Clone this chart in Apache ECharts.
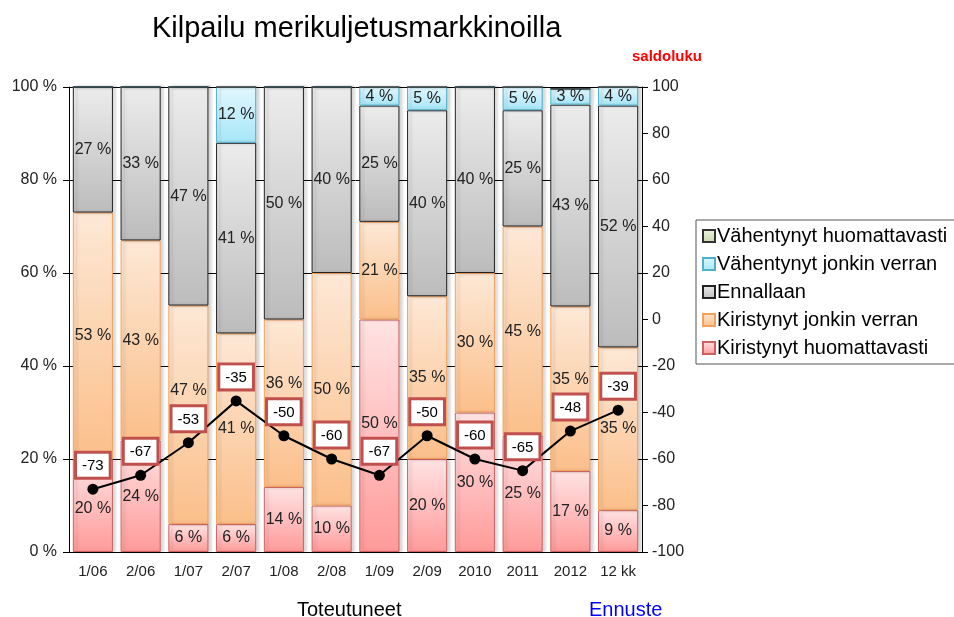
<!DOCTYPE html>
<html style="height: 100%">
<head>
    <meta charset="utf-8">
    <script type="text/javascript" src="https://cdn.jsdelivr.net/npm/echarts@6/dist/echarts.min.js"></script>
</head>
<body style="height: 100%; margin: 0; background: #fff">
<div id="container" style="height: 617px; width: 954px"></div>
<script type="text/javascript">
    var categories = ['1/06', '2/06', '1/07', '2/07', '1/08', '2/08', '1/09', '2/09', '2010', '2011', '2012', '12 kk'];
    var kirHuom = [20, 24, 6, 6, 14, 10, 50, 20, 30, 25, 17.4, 9];
    var kirJonkin = [53, 43, 47, 41, 36, 50, 21, 35, 30, 45, 35.4, 35];
    var ennallaan = [27, 33, 47, 41, 50, 40, 25, 40, 40, 25, 43.4, 52];
    var vahJonkin = [0, 0, 0, 12, 0, 0, 4, 5, 0, 5, 3.4, 4];
    var vahHuom = [0, 0, 0, 0, 0, 0, 0, 0, 0, 0, 0, 0];
    var saldo = [-73, -67, -53, -35, -50, -60, -67, -50, -60, -65, -48, -39];

    var font = '"Liberation Sans", Arial, sans-serif';
    var myChart;

    function grad(top, bottom) {
        return new echarts.graphic.LinearGradient(0, 0, 0, 1, [
            {offset: 0, color: top},
            {offset: 1, color: bottom}
        ]);
    }

    // keep bar labels clear of the saldoluku point and its label box
    function avoidLine(p) {
        var pt;
        try {
            pt = myChart.convertToPixel({xAxisIndex: 0, yAxisIndex: 1}, [p.dataIndex, saldo[p.dataIndex]]);
        } catch (e) {
            return {};
        }
        if (!pt) return {};
        var py = pt[1];
        var zTop = py - 42, zBot = py + 9;
        var l = p.labelRect, r = p.rect;
        var top = l.y, bot = l.y + l.height;
        if (bot < zTop || top > zBot) return {};
        var up = (zTop - 2) - bot;          // negative: move up
        var down = (zBot + 2) - top;        // positive: move down
        var upOk = top + up >= r.y;
        var downOk = bot + down <= r.y + r.height;
        if (upOk && (!downOk || -up <= down)) return {dy: up};
        if (downOk) return {dy: down};
        return {dy: up};
    }

    function barSeries(name, data, top, bottom, border) {
        return {
            name: name,
            type: 'bar',
            stack: 'total',
            barCategoryGap: '16%',
            data: data,
            itemStyle: {
                color: grad(top, bottom),
                borderColor: border,
                borderWidth: 1,
                shadowColor: 'rgba(0,0,0,0.18)',
                shadowOffsetX: 3,
                shadowBlur: 3
            },
            label: {
                show: true,
                position: 'inside',
                fontFamily: font,
                fontSize: 16,
                color: '#222',
                formatter: function (p) {
                    return p.value ? Math.round(p.value) + ' %' : '';
                }
            },
            labelLayout: avoidLine
        };
    }

    var dom = document.getElementById('container');
    myChart = echarts.init(dom);
    var option = {
        animation: false,
        textStyle: {fontFamily: font},
        title: [
            {
                text: 'Kilpailu merikuljetusmarkkinoilla',
                left: 147, top: 9,
                textStyle: {fontSize: 29, fontWeight: 'normal', color: '#000', fontFamily: font}
            },
            {
                text: 'saldoluku',
                left: 627, top: 44,
                textStyle: {fontSize: 15, fontWeight: 'bold', color: '#ff0000', fontFamily: font}
            },
            {
                text: 'Toteutuneet',
                left: 292, top: 595,
                textStyle: {fontSize: 20, fontWeight: 'normal', color: '#000', fontFamily: font}
            },
            {
                text: 'Ennuste',
                left: 584, top: 595,
                textStyle: {fontSize: 20, fontWeight: 'normal', color: '#0000ff', fontFamily: font}
            }
        ],
        legend: {
            orient: 'vertical',
            left: 696, top: 220,
            padding: [6, 10, 6, 6],
            borderColor: '#555',
            borderWidth: 1,
            icon: 'rect',
            itemWidth: 12, itemHeight: 12,
            itemGap: 8,
            textStyle: {fontSize: 20, color: '#000', fontFamily: font, padding: [0, 0, 0, -3]},
            data: ['Vähentynyt huomattavasti', 'Vähentynyt jonkin verran', 'Ennallaan',
                'Kiristynyt jonkin verran', 'Kiristynyt huomattavasti']
        },
        grid: {left: 69, right: 312, top: 87, bottom: 65},
        xAxis: {
            type: 'category',
            data: categories,
            axisLine: {lineStyle: {color: '#000'}},
            axisTick: {lineStyle: {color: '#000'}, length: 6},
            axisLabel: {fontSize: 15, color: '#222', margin: 12, fontFamily: font}
        },
        yAxis: [
            {
                type: 'value', min: 0, max: 100, interval: 20,
                axisLine: {show: true, lineStyle: {color: '#000'}},
                axisTick: {show: true, lineStyle: {color: '#000'}, length: 6},
                axisLabel: {formatter: '{value} %', fontSize: 16, color: '#222', fontFamily: font, margin: 12},
                splitLine: {show: true, lineStyle: {color: '#000', width: 1}}
            },
            {
                type: 'value', min: -100, max: 100, interval: 20,
                axisLine: {show: true, lineStyle: {color: '#000'}},
                axisTick: {show: true, lineStyle: {color: '#000'}, length: 6},
                axisLabel: {fontSize: 16, color: '#222', fontFamily: font, margin: 10},
                splitLine: {show: false}
            }
        ],
        series: [
            barSeries('Kiristynyt huomattavasti', kirHuom, '#ffe3e3', '#ff9a9a', '#d06060'),
            barSeries('Kiristynyt jonkin verran', kirJonkin, '#fde8d6', '#fbbf8a', '#f5a05a'),
            barSeries('Ennallaan', ennallaan, '#ececec', '#bcbcbc', '#222'),
            barSeries('Vähentynyt jonkin verran', vahJonkin, '#e2f7fd', '#a6e6f8', '#4fb0cc'),
            barSeries('Vähentynyt huomattavasti', vahHuom, '#eef3e2', '#c7d9a8', '#333'),
            {
                name: 'saldoluku',
                type: 'line',
                yAxisIndex: 1,
                data: saldo,
                symbol: 'circle',
                symbolSize: 11,
                lineStyle: {color: '#000', width: 2},
                itemStyle: {color: '#000'},
                label: {
                    show: true,
                    position: 'top',
                    distance: 7,
                    fontSize: 15,
                    color: '#000',
                    fontFamily: font,
                    backgroundColor: '#fff',
                    borderColor: '#c0504d',
                    borderWidth: 3,
                    padding: [5, 5, 3, 5]
                },
                z: 5
            }
        ]
    };
    myChart.setOption(option);
</script>
</body>
</html>
